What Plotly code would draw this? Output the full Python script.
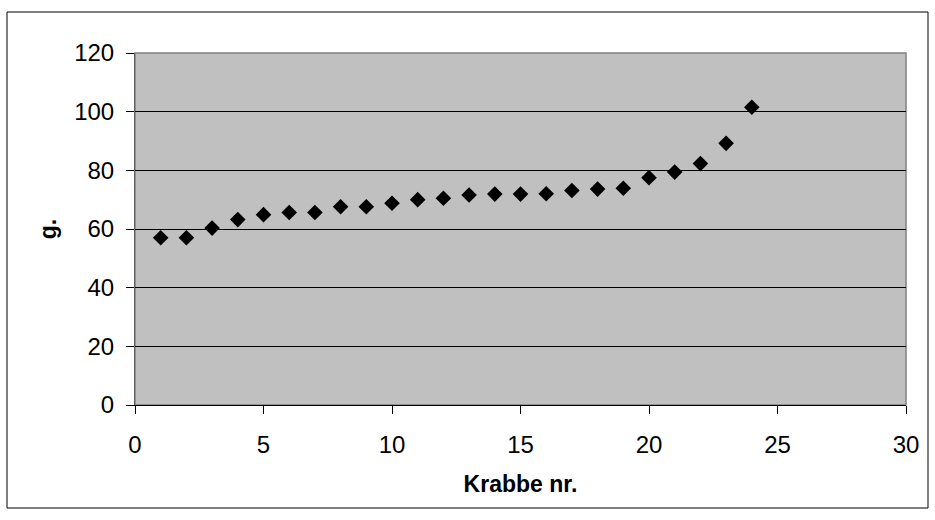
import plotly.graph_objects as go

krabbe_nr = list(range(1, 25))
vaegt_g = [57.0, 57.0, 60.3, 63.2, 64.9, 65.6, 65.6, 67.6, 67.6, 68.8, 70.0, 70.5,
           71.6, 71.9, 71.9, 72.0, 73.1, 73.6, 73.9, 77.5, 79.4, 82.3, 89.2, 101.5]

x_title = "Krabbe nr."
y_title = "g."

W, H = 935, 520
L, R, T, B = 135, 29, 53, 115
pw, ph = W - L - R, H - T - B

fig = go.Figure()
fig.add_trace(go.Scatter(
    x=krabbe_nr, y=vaegt_g, mode="markers",
    marker=dict(symbol="diamond", size=12, color="#000000", line=dict(width=0)),
    showlegend=False, cliponaxis=False,
))

font = "Liberation Sans, Arial, sans-serif"
fig.update_layout(
    width=W, height=H,
    margin=dict(l=L, r=R, t=T, b=B, pad=0),
    paper_bgcolor="white", plot_bgcolor="#C0C0C0",
    font=dict(family=font, size=24, color="black"),
    xaxis=dict(range=[0, 30], dtick=5, tick0=0, showgrid=False, zeroline=False,
               showline=True, linecolor="black", linewidth=1,
               ticks="outside", ticklen=8, tickcolor="black", ticklabelstandoff=10,
               title=dict(text="<b>" + x_title + "</b>", font=dict(size=23), standoff=19)),
    yaxis=dict(range=[0, 120], dtick=20, tick0=0, showgrid=True, gridcolor="black", gridwidth=1,
               zeroline=False, showline=True, linecolor="#606060", linewidth=1,
               ticks="outside", ticklen=8, tickcolor="black", ticklabelstandoff=7,
               title=dict(text="<b>" + y_title + "</b>", font=dict(size=23), standoff=11)),
)

# plot area border (gray)
fig.add_shape(type="rect", xref="paper", yref="paper", x0=0, y0=0, x1=1, y1=1,
              line=dict(color="#808080", width=1.5), layer="below")
# outer chart border
fig.add_shape(type="rect", xref="paper", yref="paper",
              x0=(7 - L) / pw, x1=(928 - L) / pw,
              y0=(H - B - 508) / ph, y1=(H - B - 12) / ph,
              line=dict(color="black", width=1))

fig.write_html("out.html")
